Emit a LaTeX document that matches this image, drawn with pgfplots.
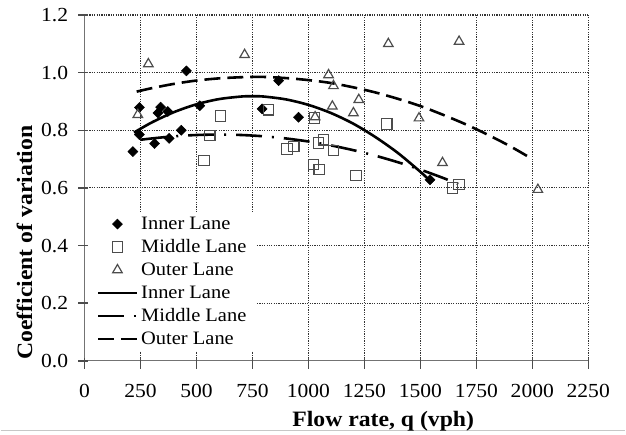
\documentclass[border=0pt]{standalone}
\usepackage{fontspec}
\setmainfont{Liberation Serif}[FakeStretch=1.08]
\usepackage{pgfplots}
\pgfplotsset{compat=1.18}

\tikzset{
  gridline/.style={black!80, line width=1.2bp, dash pattern=on 1.2bp off 1.2bp},
  tickmark/.style={black!70, line width=1.4bp},
}

% fitted trend curves, sampled along flow rate
\begin{document}
\begin{tikzpicture}
\path (0,0) rectangle (626bp,434bp);
\draw[black!22, line width=1.5bp] (0,2.5bp) -- (626bp,2.5bp);
\begin{axis}[
  at={(84bp,72.3bp)}, anchor=south west,
  scale only axis, width=504.9bp, height=346.7bp,
  xmin=0, xmax=2250, ymin=0, ymax=1.2,
  xtick={0,250,500,750,1000,1250,1500,1750,2000,2250},
  ytick={0,0.2,0.4,0.6,0.8,1.0,1.2},
  axis lines*=left,
  axis line style={black!55, line width=1.3bp},
  major tick length=0pt,
  clip=false,
  xticklabel style={font=\fontsize{20bp}{24bp}\selectfont, yshift=-20bp},
  yticklabel style={font=\fontsize{20bp}{24bp}\selectfont, xshift=-13bp},
  /pgf/number format/assume math mode=true,
  /pgf/number format/1000 sep={},
  y tick label style={/pgf/number format/fixed, /pgf/number format/fixed zerofill, /pgf/number format/precision=1},
  xlabel={Flow rate, q (vph)},
  ylabel={Coefficient of variation},
  label style={font=\fontsize{22bp}{26bp}\selectfont\bfseries},
  xlabel style={at={(axis description cs:0.593,-0.19)}, anchor=base},
  ylabel style={at={(axis description cs:-0.119,0.342)}, anchor=center},
  legend style={at={(axis description cs:0.0079,0.432)}, anchor=north west,
    draw=none, fill=white, inner xsep=8bp, inner ysep=1bp,
    font=\fontsize{19bp}{23bp}\selectfont,
    /tikz/column sep=1bp,
    nodes={inner xsep=2bp, inner ysep=2bp, text height=14.8bp, text depth=4.2bp}},
  legend cell align=left,
  legend image code/.code={\draw[mark repeat=2, mark phase=2, #1]
    plot coordinates {(0bp,0bp) (19.5bp,0bp) (39bp,0bp)};},
]
% dotted grid and tick marks
\pgfplotsinvokeforeach{250,500,750,1000,1250,1500,1750,2000,2250}{
  \draw[gridline] (axis cs:#1,0) -- (axis cs:#1,1.2);
}
\pgfplotsinvokeforeach{0.2,0.4,0.6,0.8,1.0,1.2}{
  \draw[gridline] (axis cs:0,#1) -- (axis cs:2250,#1);
}
\pgfplotsinvokeforeach{0,250,500,750,1000,1250,1500,1750,2000,2250}{
  \draw[tickmark] (axis cs:#1,0) ++(0,3bp) -- ++(0,-11bp);
}
\pgfplotsinvokeforeach{0,0.2,0.4,0.6,0.8,1.0,1.2}{
  \draw[tickmark] (axis cs:0,#1) ++(3bp,0) -- ++(-10bp,0);
}
% measured points
\addplot[only marks, mark=square*, mark size=3.55bp, mark options={rotate=45, fill=black, draw=black, line width=0.5bp}]
  coordinates {(216,0.726) (245,0.785) (245,0.879) (313,0.754) (328,0.860)
    (340,0.880) (372,0.865) (378,0.772) (432,0.800) (455,1.006) (515,0.885)
    (793,0.874) (867,0.972) (956,0.845) (1543,0.628)};
\addlegendentry{Inner Lane}
\addplot[only marks, mark=square, mark size=5.3bp, mark options={draw=black!70, line width=1.2bp, fill=white}]
  coordinates {(533,0.695) (559,0.782) (607,0.850) (822,0.871) (904,0.735)
    (934,0.744) (1027,0.842) (1023,0.681) (1049,0.664) (1045,0.756)
    (1067,0.767) (1112,0.730) (1213,0.643) (1350,0.822) (1644,0.600) (1673,0.612)};
\addlegendentry{Middle Lane}
\addplot[only marks, mark=triangle, mark size=5.5bp, mark options={draw=black!70, line width=1.2bp}]
  coordinates {(238,0.854) (285,1.030) (715,1.062) (1030,0.846) (1090,0.992)
    (1112,0.954) (1107,0.883) (1201,0.860) (1225,0.906) (1357,1.100)
    (1494,0.842) (1599,0.687) (1673,1.108) (2025,0.594)};
\addlegendentry{Outer Lane}
% trend curves
\addplot[black, line width=2.6bp, smooth, mark=none]
  coordinates {(221,0.792) (300,0.827) (400,0.863) (500,0.890) (600,0.908)
    (700,0.917) (745,0.918) (800,0.917) (900,0.907) (1000,0.888) (1100,0.860)
    (1200,0.823) (1300,0.776) (1400,0.721) (1500,0.656) (1543,0.625)};
\addlegendentry{Inner Lane}
\addplot[black, line width=2.6bp, smooth, mark=none, dash pattern=on 26bp off 10bp on 2bp off 10bp]
  coordinates {(250,0.767) (300,0.7715) (400,0.779) (500,0.7835) (600,0.785)
    (700,0.7835) (800,0.779) (900,0.7715) (1000,0.761) (1100,0.7475)
    (1200,0.731) (1300,0.7115) (1400,0.689) (1500,0.6635) (1600,0.635) (1669,0.6136)};
\addlegendentry{Middle Lane}
\addplot[black, line width=2.6bp, smooth, mark=none, dash pattern=on 16bp off 7bp]
  coordinates {(233,0.934) (300,0.946) (400,0.961) (500,0.9725) (600,0.980)
    (700,0.984) (760,0.985) (800,0.985) (900,0.981) (1000,0.974) (1100,0.964)
    (1200,0.949) (1300,0.931) (1400,0.909) (1500,0.884) (1600,0.854)
    (1700,0.8215) (1800,0.785) (1900,0.745) (1996,0.702)};
\addlegendentry{Outer Lane}
\end{axis}
\end{tikzpicture}
\end{document}
